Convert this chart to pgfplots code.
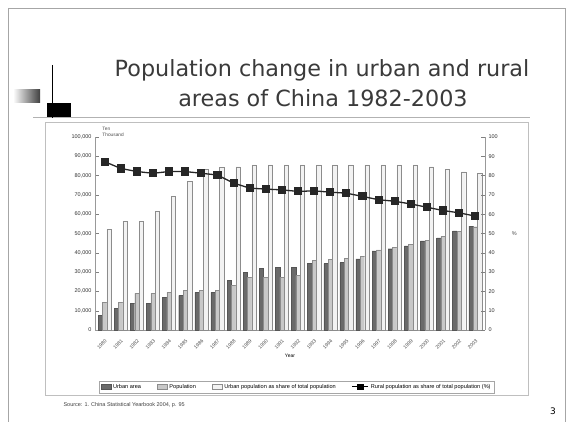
\documentclass[border=0pt]{standalone}
\usepackage{pgfplots}
\usepackage{pgfplotstable}
\pgfplotsset{compat=1.18}
\usepackage{fontspec}
\setmainfont{DejaVu Sans}
\newfontfamily\chartfont{Liberation Sans}

\definecolor{urbanbar}{HTML}{6A6A6A}
\definecolor{midbar}{HTML}{C8C8C8}
\definecolor{edgegray}{HTML}{8C8C8C}
\definecolor{ruralfill}{HTML}{F2F2F2}
\definecolor{titlegray}{HTML}{3A3A3A}

% idx year urban mid rural share(%)
\pgfplotstableread{
idx year urban mid rural share
0  1980  7700 14400 52300 87.2
1  1981 11300 14400 56400 83.7
2  1982 13800 19000 56400 82.1
3  1983 13800 19000 61500 81.2
4  1984 16900 19500 69200 82.1
5  1985 17900 20500 76900 82.1
6  1986 19500 20500 83100 81.2
7  1987 19500 20500 84100 80.3
8  1988 25600 23000 84600 76.1
9  1989 29700 27200 85600 73.5
10 1990 31800 27200 85600 73.0
11 1991 32300 27200 85600 72.6
12 1992 32300 28200 85600 71.8
13 1993 34400 36000 85600 72.1
14 1994 34400 36500 85600 71.4
15 1995 34900 37000 85600 70.9
16 1996 36900 38000 85600 69.2
17 1997 41000 41500 85600 67.5
18 1998 42100 43000 85600 66.7
19 1999 43600 44500 85600 65.3
20 2000 46200 46500 84600 63.6
21 2001 47700 48500 83100 61.9
22 2002 51300 51000 82000 60.7
23 2003 53800 53500 81000 59.0
}\popdata

\begin{document}
\begin{tikzpicture}[x=1pt,y=1pt]
\path[use as bounding box] (0,0) rectangle (570,427);

% slide frame
\draw[gray!70, line width=0.8pt] (8,419) -- (8,5);
\draw[gray!70, line width=0.8pt] (8,419) -- (565,419) -- (565,5);

% corner ornament
\shade[left color=white, right color=black!75] (13,324) rectangle (40,337);
\draw[gray!60, line width=0.8pt] (33,310) -- (530,310);
\fill[black] (47,310) rectangle (71,324);
\draw[black, line width=0.9pt] (52,362) -- (52,309);

% title
\node[text=titlegray, font=\fontsize{22.3}{25}\selectfont] at (322,357) {Population change in urban and rural};
\node[text=titlegray, font=\fontsize{22.3}{25}\selectfont] at (323,329) {areas of China 1982-2003};

% chart frame
\draw[gray!50, line width=0.6pt] (45,305) rectangle (528,32);

\begin{axis}[
  at={(95pt,97pt)}, anchor=south west,
  scale only axis, width=390pt, height=193pt,
  xmin=-0.6, xmax=23.6, ymin=0, ymax=100000,
  ybar=0pt, bar width=0.27,
  axis y line*=left, axis x line*=bottom,
  axis line style={gray!80},
  xtick=data, xticklabels from table={\popdata}{year},
  x tick label style={rotate=45, anchor=north east, font=\chartfont\fontsize{5}{6}\selectfont, text=black!70},
  major x tick style={draw=none},
  ytick={0,10000,...,100000},
  y tick label style={font=\chartfont\fontsize{5.5}{6}\selectfont, text=black!80,
    /pgf/number format/fixed, /pgf/number format/1000 sep={,}},
  /pgf/number format/assume math mode=true,
  scaled y ticks=false,
  xlabel={Year}, xlabel style={font=\chartfont\fontsize{5}{6}\selectfont, yshift=4pt},
  legend columns=4,
  legend style={at={(0.517,-0.265)}, anchor=north, draw=gray!70,
    font=\chartfont\fontsize{5.6}{6.5}\selectfont, inner sep=1.4pt,
    /tikz/every even column/.append style={column sep=14pt}},
  legend image code/.code={\draw[#1] (0pt,-2pt) rectangle (10pt,3.5pt);},
  clip=false,
]
\addplot[fill=urbanbar, draw=urbanbar!80!black] table[x=idx, y=urban] {\popdata};
\addlegendentry{Urban area}
\addplot[fill=midbar, draw=edgegray] table[x=idx, y=mid] {\popdata};
\addlegendentry{Population}
\addplot[fill=ruralfill, draw=edgegray] table[x=idx, y=rural] {\popdata};
\addlegendentry{Urban population as share of total population}
\addlegendimage{black, line width=1pt,
  legend image code/.code={\draw[black, line width=1pt] (0pt,0.75pt) -- (16pt,0.75pt);
    \fill[black] (5pt,-2pt) rectangle (11pt,3.5pt);}}
\addlegendentry{Rural population as share of total population (\%)}
\node[font=\chartfont\fontsize{4.8}{5.5}\selectfont, align=left, anchor=south west, text=black!70] at (rel axis cs:0.01,0.985) {Ten\\Thousand};
\end{axis}

\begin{axis}[
  at={(95pt,97pt)}, anchor=south west,
  scale only axis, width=390pt, height=193pt,
  xmin=-0.6, xmax=23.6, ymin=0, ymax=100,
  axis y line*=right, axis x line=none,
  axis line style={gray!80},
  ytick={0,10,...,100},
  y tick label style={font=\chartfont\fontsize{5.5}{6}\selectfont, text=black!80},
  /pgf/number format/assume math mode=true,
  clip=false,
]
\addplot[black!85, line width=1.3pt, mark=square*, mark size=3.4pt] table[x=idx, y=share] {\popdata};
\node[font=\chartfont\fontsize{5.5}{6}\selectfont, text=black!70] at (rel axis cs:1.075,0.5) {\%};
\end{axis}

% source line and page number
\node[anchor=west, font=\chartfont\fontsize{5.5}{6}\selectfont, text=black!75] at (60,22) {Source: 1. China Statistical Yearbook 2004, p. 95};
\node[font=\fontsize{9}{10}\selectfont] at (553,16) {3};
\end{tikzpicture}
\end{document}
